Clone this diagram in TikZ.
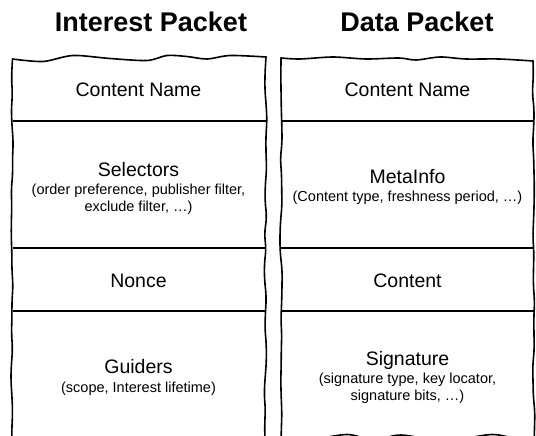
\documentclass[tikz,border=0pt]{standalone}
\usepackage{fontspec}
\setmainfont{Liberation Sans}
\usetikzlibrary{positioning, decorations.pathmorphing}

\newcommand{\namefont}{\fontsize{19.5}{23}\selectfont}
\newcommand{\detailfont}{\fontsize{14.5}{16.5}\selectfont}

\begin{document}
\begin{tikzpicture}[x = 1pt, y = -1pt,
    every node/.style = {inner sep = 0pt},
    title/.style = {font = \fontsize{27}{32}\selectfont\bfseries, anchor = base},
    field/.style = {font = \namefont, anchor = base},
    detail/.style = {font = \detailfont, align = center},
    outline/.style = {line width = 1.6pt, line cap = round, line join = round},
    wobble/.style = {decorate, decoration = {random steps, segment length = 16pt, amplitude = 1.2pt}, rounded corners = 7pt},
    divider/.style = {line width = 1.4pt}]
  \pgfmathsetseed{7}
  \clip (0,0) rectangle (536,436);

  % titles
  \node[title] (itit) at (151,32) {Interest Packet};
  \node[title] (dtit) at (417,32) {Data Packet};

  % interest packet outline
  \draw[outline, wobble] (12,446) -- (12.5,59);
  \draw[outline] plot[smooth] coordinates {(12.5,59) (43,61.5) (73,55.5) (110,58.5) (147,60.5) (167,55.5) (187,56.5) (207,59) (230,55.5) (266,57)};
  \draw[outline, wobble] (266,57) -- (265,446);
  \draw[outline] plot[smooth] coordinates {(12,443) (27,437.6) (56,443) (85,437.6) (115,443) (150,445) (200,445) (265,444)};

  % data packet outline
  \draw[outline, wobble] (281,446) -- (281,58);
  \draw[outline] plot[smooth] coordinates {(281,58) (300,59) (333,57) (366,59) (399,58) (416,60) (440,57) (466,59) (499,59) (533,61)};
  \draw[outline, wobble] (533,61) -- (534,446);
  \draw[outline] plot[smooth] coordinates {(281,442) (310,440) (347,434.5) (374,440) (401,435) (445,441) (492,434.5) (520,440) (534,441)};

  % field borders
  \foreach \y in {121, 248, 311} {
    \draw[divider] (12.5,\y) -- (265.5,\y);
    \draw[divider] (281,\y) -- (533.5,\y);
  }

  % interest fields
  \node[field] (iname) at (138.5,96.7) {Content Name};
  \node[field] (sel) at (138.5,176) {Selectors};
  \node[detail, below = 8pt of sel.base] (seltxt) {(order preference, publisher filter,\\ exclude filter, …)};
  \node[field] (nonce) at (138.5,287.3) {Nonce};
  \node[field] (guid) at (138.5,373.3) {Guiders};
  \node[detail, below = 8pt of guid.base] (guidtxt) {(scope, Interest lifetime)};

  % data fields
  \node[field] (dname) at (407.5,96.7) {Content Name};
  \node[field] (meta) at (407.5,183) {MetaInfo};
  \node[detail, below = 8pt of meta.base] (metatxt) {(Content type, freshness period, …)};
  \node[field] (cont) at (407.5,287.3) {Content};
  \node[field] (sig) at (407.5,365) {Signature};
  \node[detail, below = 8pt of sig.base] (sigtxt) {(signature type, key locator,\\ signature bits, …)};
\end{tikzpicture}
\end{document}
